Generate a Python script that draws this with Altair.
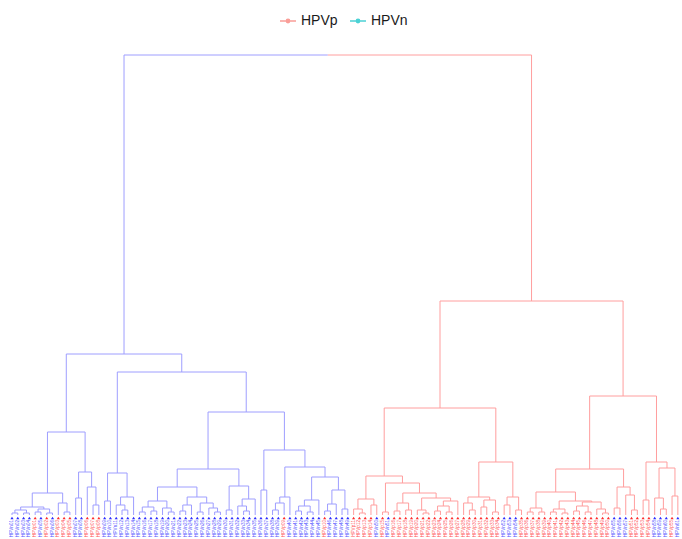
import altair as alt
import pandas as pd

# Leaf classes in dendrogram order (p = HPVp, n = HPVn)
LEAF_GROUPS = (
    "nnnnpnpnpppnnppp"
    "nnnnnnnnnnnnnnnnnnnnnnnnnnnnnnn"
    "pnnnnnnpnnnn"
    "ppppnpn"
    "ppppppppppppppppppp"
    "nnn"
    "pppppppppppppppp"
    "nnnpppp"
    "nnnpn"
)

GROUP_NAMES = {"p": "HPVp", "n": "HPVn"}
LEGEND_DOMAIN = ["HPVp", "HPVn"]
LEGEND_COLORS = ["#F8766D", "#00BFC4"]
CLUSTER_COLORS = ["#9E9EFF", "#FF9E9E"]
LEAF_COLORS = ["#2B2BFF", "#FF2B2B"]


def N(h, a, b):
    return (h, a, b)


# ---- merge heights of the hierarchical clustering ----
# first main cluster
a1 = N(8, N(5, N(2, 0, 1), N(2, 2, 3)), N(6, N(3, 4, 5), N(2, 6, 7)))
a2 = N(12, 8, N(3, 9, 10))
L1a = N(22, a1, a2)
L1b = N(43, N(17, 11, 12), N(28, 13, N(10, 14, 15)))
L1 = N(83, L1a, L1b)

L2a = N(42, N(14, 16, 17), N(18, N(10, 18, N(5, 19, 20)), 21))
c1a = N(14, N(8, N(3, 22, 23), N(4, 24, 25)), N(7, 26, N(3, 27, 28)))
c1b = N(18, N(10, N(4, 29, 30), 31), N(12, N(3, 32, 33), N(7, 34, N(3, 35, 36))))
c1 = N(28, c1a, c1b)
c2 = N(29, N(5, 37, 38), N(16, N(9, 39, N(4, 40, 41)), 42))
L2b1 = N(46, c1, c2)
d1 = N(25, 43, 44)
d2a = N(18, N(12, N(5, 45, 46), 47), 48)
d2bL = N(15, N(9, N(4, 49, 50), N(3, 51, 52)), 53)
d2bR = N(25, N(11, N(4, 54, 55), 56), N(6, 57, 58))
d2 = N(48, d2a, N(38, d2bL, d2bR))
L2b2 = N(65, d1, d2)
L2 = N(143, L2a, N(103, L2b1, L2b2))
CLUSTER_1 = N(161, L1, L2)

# second main cluster
r1a_left = N(16, N(6, 59, N(2, 60, 61)), N(10, 62, 63))
g66 = N(12, N(4, 66, 67), N(5, 68, 69))
g70 = N(5, 70, N(2, 71, 72))
g73 = N(14, N(9, N(4, 73, 74), N(3, 75, 76)), 77)
r1a_right = N(32, N(3, 64, 65), N(22, g66, N(17, g70, g73)))
R1a = N(39, r1a_left, r1a_right)
R1b = N(53,
        N(18, N(12, 78, N(5, 79, 80)), N(15, N(8, 81, 82), N(3, 83, 84))),
        N(18, N(10, 85, 86), N(5, 87, 88)))
R1 = N(107, R1a, R1b)
g89 = N(7, N(3, 89, 90), N(3, 91, 92))
g93 = N(14, N(6, N(3, 93, 94), N(2, 95, 96)),
        N(13, N(9, N(4, 97, 98), N(3, 99, 100)), N(6, 101, N(2, 102, 103))))
R2a = N(46, N(23, g89, g93), N(28, N(7, 104, 105), N(20, 106, N(5, 107, 108))))
R2b = N(53, N(15, 109, 110), N(47, N(17, 111, N(6, 112, 113)), N(19, 114, 115)))
R2 = N(119, R2a, R2b)
CLUSTER_2 = N(214, R1, R2)

ROOT_HEIGHT = 460

# ---- dendrogram layout: leaf order gives x, merge height gives y ----
segments = []


def seg(x, y, x2, y2, k):
    segments.append({"x": x, "y": y, "x2": x2, "y2": y2, "cluster": k})


def layout(t, k):
    if isinstance(t, int):
        return float(t), 0.0
    h, a, b = t
    xa, ha = layout(a, k)
    xb, hb = layout(b, k)
    seg(xa, ha, xa, h, k)
    seg(xb, hb, xb, h, k)
    seg(xa, h, xb, h, k)
    return (xa + xb) / 2.0, h


x1, h1 = layout(CLUSTER_1, "k1")
x2, h2 = layout(CLUSTER_2, "k2")
xm = (x1 + x2) / 2.0
seg(x1, h1, x1, ROOT_HEIGHT, "k1")
seg(x1, ROOT_HEIGHT, xm, ROOT_HEIGHT, "k1")
seg(x2, h2, x2, ROOT_HEIGHT, "k2")
seg(xm, ROOT_HEIGHT, x2, ROOT_HEIGHT, "k2")
seg_df = pd.DataFrame(segments)

counters = {"p": 0, "n": 0}
leaf_rows = []
for i, g in enumerate(LEAF_GROUPS):
    counters[g] += 1
    leaf_rows.append({
        "x": float(i),
        "y": 0.0,
        "group": GROUP_NAMES[g],
        "label": f"{GROUP_NAMES[g]}{counters[g]:02d}",
    })
leaf_df = pd.DataFrame(leaf_rows)

# scales: one leaf step = 5.79 px, baseline at 515 px from the top
STEP = 5.79
x_lo = -12 / STEP
x_scale = alt.Scale(domain=[x_lo, x_lo + 682 / STEP], nice=False, zero=False)
y_scale = alt.Scale(domain=[515 - 539, 515], nice=False, zero=False)

X = alt.X("x:Q", scale=x_scale, axis=None)
Y = alt.Y("y:Q", scale=y_scale, axis=None)

branches = alt.Chart(seg_df).mark_rule(strokeWidth=1).encode(
    x=X, x2="x2:Q", y=Y, y2="y2:Q",
    color=alt.Color("cluster:N",
                    scale=alt.Scale(domain=["k1", "k2"], range=CLUSTER_COLORS),
                    legend=None),
)

markers = alt.Chart(leaf_df).mark_point(
    shape="triangle-up", filled=True, size=10, yOffset=3, opacity=1
).encode(
    x=X, y=Y,
    color=alt.Color("group:N",
                    scale=alt.Scale(domain=["HPVn", "HPVp"], range=LEAF_COLORS),
                    legend=None),
)

labels = alt.Chart(leaf_df).mark_text(
    angle=270, align="right", baseline="middle", fontSize=4.6,
    font="Liberation Sans", yOffset=5, opacity=0.8
).encode(
    x=X, y=Y, text="label:N",
    color=alt.Color("group:N",
                    scale=alt.Scale(domain=["HPVn", "HPVp"], range=LEAF_COLORS),
                    legend=None),
)

LEGEND_SYMBOL = "M-1,0L1,0M-0.2,0A0.2,0.2,0,1,1,0.2,0A0.2,0.2,0,1,1,-0.2,0Z"

legend_layer = alt.Chart(leaf_df).transform_filter("false").mark_point(
    shape=LEGEND_SYMBOL, filled=False, strokeWidth=1.6
).encode(
    x=X, y=Y,
    color=alt.Color(
        "group:N",
        scale=alt.Scale(domain=LEGEND_DOMAIN, range=LEGEND_COLORS),
        legend=alt.Legend(
            title=None, orient="none", direction="horizontal",
            legendX=279, legendY=12, padding=0,
            symbolType=LEGEND_SYMBOL, symbolSize=256, symbolStrokeWidth=1.6,
            labelFont="Liberation Sans", labelFontSize=14, labelColor="#1A1A1A",
            labelOffset=4, columnPadding=8,
        ),
    ),
)

chart = alt.layer(branches, markers, labels, legend_layer).resolve_scale(
    color="independent"
).properties(
    width=682, height=539,
    autosize=alt.AutoSizeParams(type="none"),
    padding=0,
    background="white",
).configure_view(stroke=None)

chart.save("out.html", embed_options={"renderer": "svg", "actions": False})
